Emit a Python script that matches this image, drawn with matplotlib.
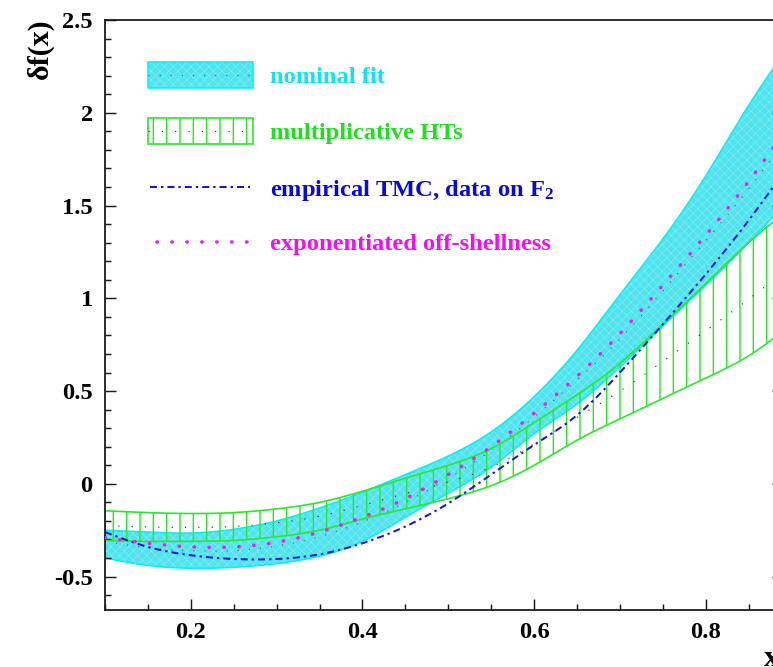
import numpy as np
import matplotlib
matplotlib.use("Agg")
import matplotlib.pyplot as plt
from matplotlib.patches import Rectangle
from matplotlib.lines import Line2D
from matplotlib.ticker import MultipleLocator

# ---- data: delta f(x) curves on a common x grid ----
x_nodes = [0.10, 0.15, 0.20, 0.25, 0.30, 0.35, 0.40, 0.45, 0.50,
           0.55, 0.60, 0.65, 0.70, 0.75, 0.80, 0.85, 0.90]

# nominal fit: central value and error band
nominal_mid = [-0.31, -0.345, -0.36, -0.36, -0.335, -0.285, -0.205, -0.10, 0.03,
               0.18, 0.36, 0.56, 0.78, 1.04, 1.31, 1.59, 1.90]
nominal_hi = [-0.25, -0.26, -0.265, -0.245, -0.20, -0.13, -0.045, 0.05, 0.15,
              0.28, 0.47, 0.72, 1.02, 1.32, 1.66, 2.04, 2.38]
nominal_lo = [-0.40, -0.44, -0.455, -0.45, -0.43, -0.39, -0.31, -0.18, -0.05,
              0.09, 0.27, 0.43, 0.63, 0.85, 1.07, 1.30, 1.55]

# multiplicative higher twists: band
mult_ht_hi = [-0.145, -0.155, -0.16, -0.155, -0.135, -0.10, -0.04, 0.03, 0.10,
              0.19, 0.33, 0.48, 0.65, 0.86, 1.08, 1.30, 1.49]
mult_ht_lo = [-0.305, -0.31, -0.31, -0.305, -0.285, -0.25, -0.19, -0.135, -0.08,
              -0.01, 0.10, 0.235, 0.35, 0.46, 0.57, 0.69, 0.86]

# empirical TMC, data on F2
tmc_f2 = [-0.26, -0.34, -0.385, -0.405, -0.405, -0.38, -0.32, -0.23, -0.105,
          0.05, 0.21, 0.37, 0.60, 0.86, 1.13, 1.42, 1.74]

# exponentiated off-shellness
offshell_exp = [-0.29, -0.32, -0.34, -0.34, -0.315, -0.26, -0.18, -0.08, 0.05,
                0.20, 0.38, 0.58, 0.81, 1.07, 1.34, 1.63, 1.95]

legend_labels = ["nominal fit", "multiplicative HTs",
                 r"empirical TMC, data on F$_2$", "exponentiated off-shellness"]

x_ticks_major = [0.2, 0.4, 0.6, 0.8]
y_ticks_major = [-0.5, 0, 0.5, 1, 1.5, 2, 2.5]


def natural_spline(x, y, xs):
    """Natural cubic spline through (x, y), evaluated at xs."""
    x = np.asarray(x, float)
    y = np.asarray(y, float)
    n = len(x)
    h = np.diff(x)
    A = np.zeros((n, n))
    r = np.zeros(n)
    A[0, 0] = A[-1, -1] = 1.0
    for i in range(1, n - 1):
        A[i, i - 1] = h[i - 1]
        A[i, i] = 2 * (h[i - 1] + h[i])
        A[i, i + 1] = h[i]
        r[i] = 6 * ((y[i + 1] - y[i]) / h[i] - (y[i] - y[i - 1]) / h[i - 1])
    m = np.linalg.solve(A, r)
    idx = np.clip(np.searchsorted(x, xs) - 1, 0, n - 2)
    x0, x1 = x[idx], x[idx + 1]
    hh = x1 - x0
    t0, t1 = x1 - xs, xs - x0
    return (m[idx] * t0 ** 3 / (6 * hh) + m[idx + 1] * t1 ** 3 / (6 * hh)
            + (y[idx] / hh - m[idx] * hh / 6) * t0
            + (y[idx + 1] / hh - m[idx + 1] * hh / 6) * t1)


DPI = 80
plt.rcParams["font.family"] = ["Liberation Serif", "DejaVu Serif"]
plt.rcParams["font.weight"] = "bold"
plt.rcParams["mathtext.fontset"] = "custom"
plt.rcParams["mathtext.rm"] = "Liberation Serif:bold"
plt.rcParams["mathtext.bf"] = "Liberation Serif:bold"
plt.rcParams["mathtext.it"] = "Liberation Serif:bold:italic"
plt.rcParams["hatch.linewidth"] = 1.3

fig = plt.figure(figsize=(773 / DPI, 667 / DPI), dpi=DPI)
ax = fig.add_axes([105 / 773, 57 / 667, 678 / 773, 590 / 667])

xs = np.linspace(x_nodes[0], x_nodes[-1], 400)

CYAN = "#00f2f8"
CYAN_FILL = "#4fe4ee"
CYAN_TEXTURE = "#86ecf3"
GREEN = "#2ee62e"
BLUE = "#1414dc"
MAGENTA = "#f01cf0"
MAG_DOTS = (0, (0.1, 4.1))
TMC_DASH = (0, (3.5, 2, 1.2, 2))

# nominal fit band (light cross texture on a cyan fill)
nlo = natural_spline(x_nodes, nominal_lo, xs)
nhi = natural_spline(x_nodes, nominal_hi, xs)
with plt.rc_context({"hatch.linewidth": 0.6}):
    ax.fill_between(xs, nlo, nhi, facecolor=CYAN_FILL, edgecolor=CYAN_TEXTURE,
                    hatch="xxx", linewidth=0, zorder=1)
ax.plot(xs, nlo, color=CYAN, lw=1.4, zorder=1.1)
ax.plot(xs, nhi, color=CYAN, lw=1.4, zorder=1.1)
ax.plot(xs, natural_spline(x_nodes, nominal_mid, xs), color="#555555",
        lw=1.0, linestyle=(0, (1, 9)), zorder=1.2)

# multiplicative HTs band (vertical hatching)
glo = natural_spline(x_nodes, mult_ht_lo, xs)
ghi = natural_spline(x_nodes, mult_ht_hi, xs)
ax.fill_between(xs, glo, ghi, facecolor="none", edgecolor=GREEN,
                hatch="|", linewidth=1.5, zorder=2)
ax.plot(xs, 0.5 * (glo + ghi), color="#222222", lw=1.0,
        linestyle=(0, (1, 11)), zorder=2.1)

# empirical TMC
ax.plot(xs, natural_spline(x_nodes, tmc_f2, xs), color=BLUE, lw=1.8,
        linestyle=TMC_DASH, zorder=3)

# exponentiated off-shellness
ax.plot(xs, natural_spline(x_nodes, offshell_exp, xs), color=MAGENTA, lw=3.2,
        linestyle=MAG_DOTS, dash_capstyle="round", zorder=4)

# axes
ax.set_xlim(0.1, 0.89)
ax.set_ylim(-0.68, 2.5)
ax.set_xticks(x_ticks_major)
ax.set_xticklabels(["0.2", "0.4", "0.6", "0.8"])
ax.set_yticks(y_ticks_major)
ax.set_yticklabels(["-0.5", "0", "0.5", "1", "1.5", "2", "2.5"])
ax.xaxis.set_minor_locator(MultipleLocator(0.05))
ax.yaxis.set_minor_locator(MultipleLocator(0.1))
ax.tick_params(which="both", direction="in", top=False, right=True,
               width=1.3, colors="#1a1a1a", labelsize=22)
ax.tick_params(which="major", length=10)
ax.tick_params(which="minor", length=5)
ax.tick_params(axis="x", pad=11)
ax.tick_params(axis="y", pad=11)
for lab in ax.get_xticklabels() + ax.get_yticklabels():
    lab.set_fontweight("bold")
    lab.set_color("black")
for s in ax.spines.values():
    s.set_linewidth(1.6)
    s.set_color("#1a1a1a")

ax.text(-0.096, 1.003, "δf(x)", transform=ax.transAxes, rotation=90,
        ha="center", va="top", fontsize=27, fontweight="bold")
ax.text(0.972, -0.095, "x", transform=ax.transAxes, ha="left",
        va="baseline", fontsize=27, fontweight="bold")


# legend, laid out in axes fractions
def ax_x(px):
    return (px - 105) / 678


def ax_y(py):
    return (610 - py) / 590


bx0, bx1 = ax_x(148), ax_x(253)
tx = ax_x(270)
rows = [75, 131, 187, 242]
box_h = 26 / 590

y0 = ax_y(rows[0]) - box_h / 2
with plt.rc_context({"hatch.linewidth": 0.6}):
    ax.add_patch(Rectangle((bx0, y0), bx1 - bx0, box_h, transform=ax.transAxes,
                           facecolor=CYAN_FILL, edgecolor=CYAN_TEXTURE,
                           hatch="xxx", linewidth=0, zorder=5))
ax.add_patch(Rectangle((bx0, y0), bx1 - bx0, box_h, transform=ax.transAxes,
                       facecolor="none", edgecolor=CYAN, linewidth=1.4, zorder=5.1))
ax.add_line(Line2D([bx0, bx1], [ax_y(rows[0])] * 2, transform=ax.transAxes,
                   color="#555555", lw=1.0, linestyle=(0, (1, 9)), zorder=5.2))

y1 = ax_y(rows[1]) - box_h / 2
ax.add_patch(Rectangle((bx0, y1), bx1 - bx0, box_h, transform=ax.transAxes,
                       facecolor="none", edgecolor=GREEN, hatch="|",
                       linewidth=1.5, zorder=5))
ax.add_line(Line2D([bx0, bx1], [ax_y(rows[1])] * 2, transform=ax.transAxes,
                   color="#222222", lw=1.0, linestyle=(0, (1, 11)), zorder=5.2))

ax.add_line(Line2D([ax_x(150), ax_x(250)], [ax_y(rows[2])] * 2,
                   transform=ax.transAxes, color=BLUE, lw=1.8,
                   linestyle=TMC_DASH, zorder=5))
ax.add_line(Line2D([ax_x(157), ax_x(252)], [ax_y(rows[3])] * 2,
                   transform=ax.transAxes, color=MAGENTA, lw=3.2,
                   linestyle=MAG_DOTS, dash_capstyle="round", zorder=5))

text_colors = ["#10e4f0", "#1ee01e", "#0a0ad8", "#ee10ee"]
for lab, col, py in zip(legend_labels, text_colors, rows):
    ax.text(tx, ax_y(py), lab, transform=ax.transAxes, ha="left",
            va="center_baseline", color=col, fontsize=22, fontweight="bold")

fig.savefig("out.png", dpi=DPI)
